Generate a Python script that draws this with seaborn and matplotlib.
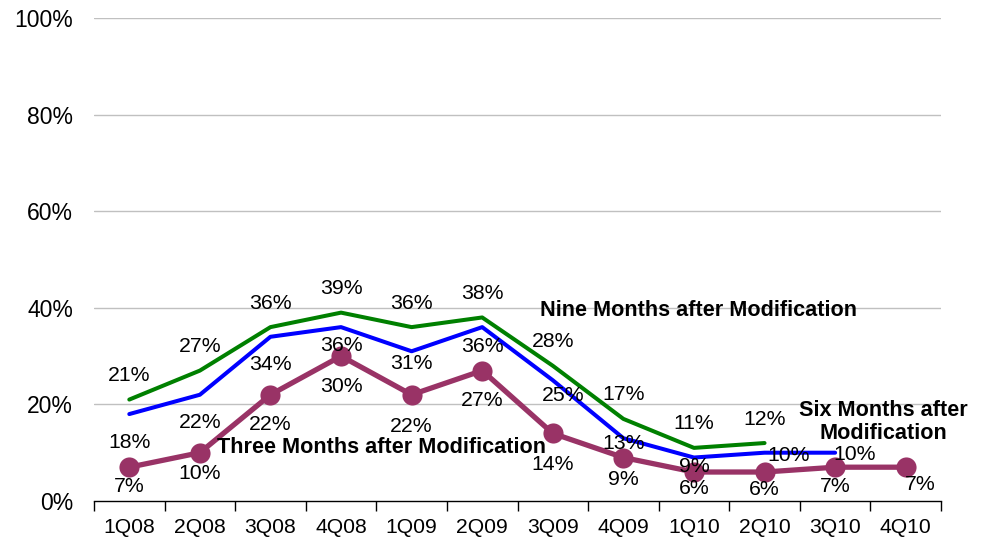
import matplotlib
matplotlib.use("Agg")
import matplotlib.pyplot as plt
import seaborn as sns
import pandas as pd
import numpy as np

quarters = ["1Q08", "2Q08", "3Q08", "4Q08", "1Q09", "2Q09", "3Q09", "4Q09", "1Q10", "2Q10", "3Q10", "4Q10"]
nine_months = [21, 27, 36, 39, 36, 38, 28, 17, 11, 12]
six_months = [18, 22, 34, 36, 31, 36, 25, 13, 9, 10, 10]
three_months = [7, 10, 22, 30, 22, 27, 14, 9, 6, 6, 7, 7]
y_ticks = [0, 20, 40, 60, 80, 100]

# label placement styling (pixel offsets from the point: right, down)
six_label_off = [(0, 28), (0, 28), (0, 28), (0, 18), (0, 12), (0, 19), (10, 15), (0, 5), (0, 9), (24, 3), (20, 2)]
three_label_off = [(0, 19), (0, 21), (0, 30), (0, 30), (0, 32), (0, 30), (0, 31), (0, 22), (0, 16), (0, 17), (0, 19), (15, 17)]

sns.set_theme(style="white")
plt.rcParams["font.family"] = ["Liberation Sans", "DejaVu Sans"]
plt.rcParams["text.color"] = "black"

fig = plt.figure(figsize=(9.9, 5.39), dpi=100)
ax = fig.add_axes([94/990, 38/539, (941-94)/990, (501-18)/539])

def frame(vals, name):
    return pd.DataFrame({"x": np.arange(len(vals)), "y": vals, "series": name})

df9 = frame(nine_months, "nine")
df6 = frame(six_months, "six")
df3 = frame(three_months, "three")

sns.lineplot(data=df9, x="x", y="y", ax=ax, color="#008000", linewidth=2.9, sort=False)
sns.lineplot(data=df6, x="x", y="y", ax=ax, color="#0000FF", linewidth=2.9, sort=False)
sns.lineplot(data=df3, x="x", y="y", ax=ax, color="#993366", linewidth=3.8, sort=False,
             marker="o", markersize=14.5, markeredgewidth=0)

fs = 15.3
for i, v in enumerate(nine_months):
    ax.annotate(f"{v}%", (i, v), xytext=(0, 24), textcoords="offset pixels",
                ha="center", va="center", fontsize=fs, color="black")
for i, v in enumerate(six_months):
    dx, dy = six_label_off[i]
    ax.annotate(f"{v}%", (i, v), xytext=(dx, -dy), textcoords="offset pixels",
                ha="center", va="center", fontsize=fs, color="black")
for i, v in enumerate(three_months):
    dx, dy = three_label_off[i]
    ax.annotate(f"{v}%", (i, v), xytext=(dx, -dy), textcoords="offset pixels",
                ha="center", va="center", fontsize=fs, color="black")

bfs = 15.6
ax.text(5.82, 39.5, "Nine Months after Modification", fontsize=bfs, fontweight="bold",
        ha="left", va="center", color="black")
ax.text(1.24, 11.0, "Three Months after Modification", fontsize=bfs, fontweight="bold",
        ha="left", va="center", color="black")
ax.text(10.69, 16.4, "Six Months after\nModification", fontsize=bfs, fontweight="bold",
        ha="center", va="center", linespacing=1.1, color="black")

ax.set_xlim(-0.5, 11.5)
ax.set_ylim(0, 100)
ax.set_yticks(y_ticks)
ax.set_yticklabels([f"{t}%" for t in y_ticks], fontsize=16.5, color="black")
ax.set_xticks(np.arange(len(quarters)))
ax.set_xticklabels(quarters, fontsize=15.2, color="black")
ax.set_xticks(np.arange(-0.5, 12, 1), minor=True)
ax.tick_params(axis="x", which="major", length=0, pad=12)
ax.tick_params(axis="x", which="minor", length=7, width=1, color="black", direction="out", bottom=True)
ax.tick_params(axis="y", length=0, pad=15)
ax.set_xlabel("")
ax.set_ylabel("")

for y in y_ticks[1:]:
    ax.axhline(y, color="#C0C0C0", linewidth=1, zorder=0)
for s in ["top", "right", "left"]:
    ax.spines[s].set_visible(False)
ax.spines["bottom"].set_color("black")
ax.spines["bottom"].set_linewidth(1)
ax.grid(False)

fig.savefig("out.png", dpi=100)
